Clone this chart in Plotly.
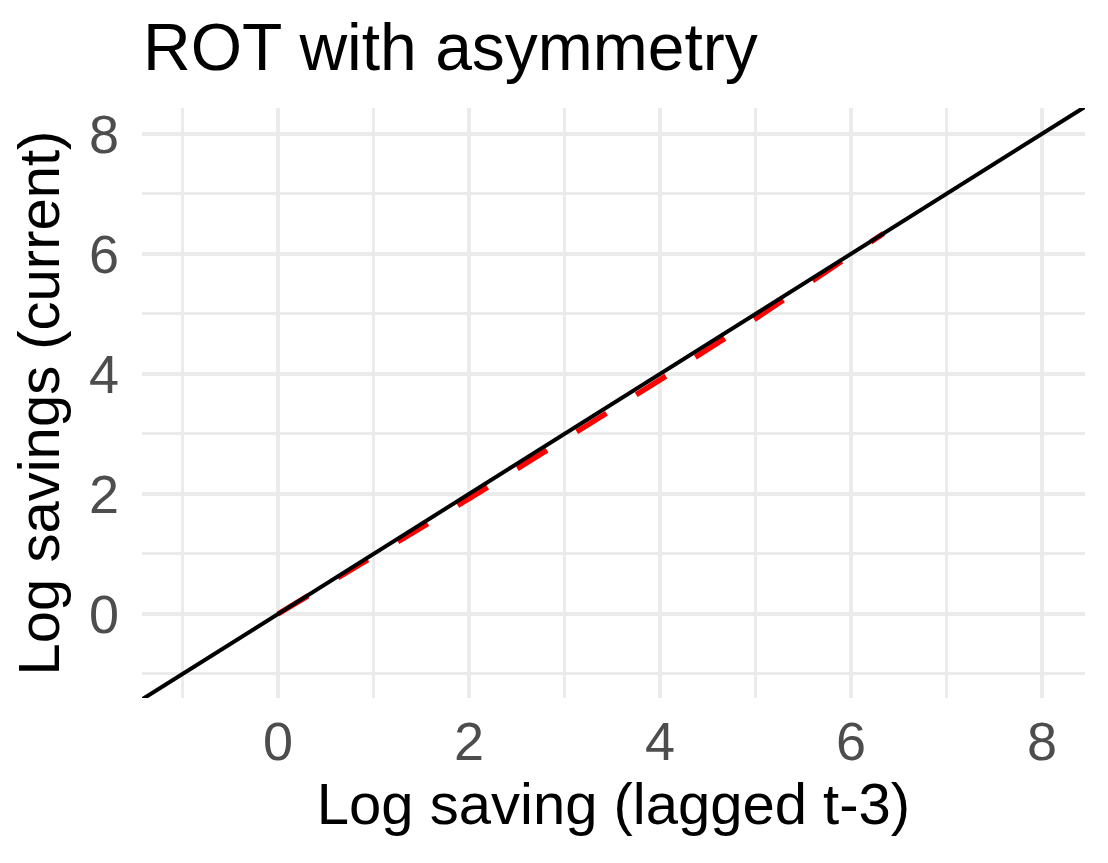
import plotly.graph_objects as go

# Reference line y = x (drawn across the full panel)
ref_line = [-2, 9]

# Fitted rule-of-thumb path with asymmetry
lagged = [0.0, 1.0, 2.0, 3.0, 4.0, 5.0, 6.0, 6.34]
current = [0.0, 0.95, 1.92, 2.91, 3.90, 4.92, 5.97, 6.34]

major_ticks = [0, 2, 4, 6, 8]

fig = go.Figure()

fig.add_trace(
    go.Scatter(
        x=lagged,
        y=current,
        mode="lines",
        line=dict(color="#FF0000", width=5.4, dash="35px,35px"),
        showlegend=False,
        hoverinfo="skip",
    )
)
fig.add_trace(
    go.Scatter(
        x=ref_line,
        y=ref_line,
        mode="lines",
        line=dict(color="#000000", width=4),
        showlegend=False,
        hoverinfo="skip",
    )
)

axis_common = dict(
    showline=False,
    zeroline=False,
    showgrid=True,
    gridcolor="#EBEBEB",
    gridwidth=4,
    tickvals=major_ticks,
    ticks="",
    tickfont=dict(family="Liberation Sans, Arial", size=54, color="#4D4D4D"),
    minor=dict(showgrid=True, gridcolor="#EBEBEB", gridwidth=2.6, dtick=1, tick0=-1),
)

fig.update_xaxes(
    **axis_common,
    range=[-1.424, 8.45],
    ticklabelstandoff=7,
    title=dict(
        text="Log saving (lagged t-3)",
        font=dict(family="Liberation Sans, Arial", size=58, color="#000000"),
        standoff=10,
    ),
)
fig.update_yaxes(
    **axis_common,
    range=[-1.40, 8.43],
    ticklabelstandoff=22,
    title=dict(
        text="Log savings (current)",
        font=dict(family="Liberation Sans, Arial", size=58, color="#000000"),
        standoff=10,
    ),
)

fig.update_layout(
    width=1108,
    height=863,
    paper_bgcolor="white",
    plot_bgcolor="white",
    margin=dict(l=142, r=23, t=108, b=165, autoexpand=False),
    title=dict(
        text="ROT with asymmetry",
        font=dict(family="Liberation Sans, Arial", size=66, color="#000000"),
        x=143 / 1108,
        xanchor="left",
        xref="container",
        y=1 - 47 / 863,
        yanchor="middle",
        yref="container",
    ),
)

fig.write_html(
    "out.html",
    config={"displayModeBar": False},
    post_script="document.body.style.margin = '0';",
)
